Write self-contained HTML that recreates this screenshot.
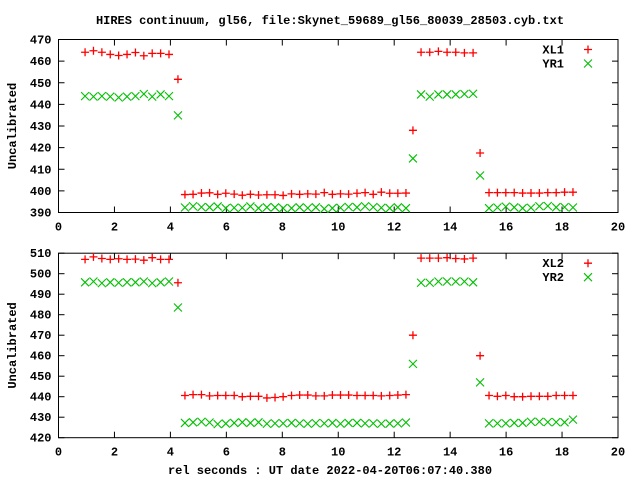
<!DOCTYPE html>
<html><head><meta charset="utf-8"><style>
body{margin:0;background:#fff;}
svg text{font-family:"Liberation Mono",monospace;font-size:12px;font-weight:bold;fill:#000;}
</style></head><body>
<svg id="c" width="640" height="480" xmlns="http://www.w3.org/2000/svg">
<rect width="640" height="480" fill="#fff"/>
<text x="330" y="24" text-anchor="middle">HIRES continuum, gl56, file:Skynet_59689_gl56_80039_28503.cyb.txt</text>
<text x="330" y="474" text-anchor="middle">rel seconds : UT date 2022-04-20T06:07:40.380</text>
</svg>
<script>
const times=[0.95,1.25,1.55,1.85,2.15,2.45,2.75,3.05,3.35,3.65,3.95,4.27,4.52,4.81,5.11,5.40,5.69,5.98,6.28,6.57,6.86,7.15,7.45,7.74,8.03,8.33,8.62,8.91,9.20,9.50,9.79,10.08,10.37,10.67,10.96,11.25,11.54,11.84,12.13,12.42,12.67,12.96,13.27,13.58,13.89,14.20,14.51,14.82,15.07,15.39,15.69,15.99,16.29,16.59,16.89,17.19,17.49,17.79,18.09,18.39];
const xl1=[464.1,464.8,464.1,463.1,462.6,463.1,464.0,462.5,463.6,463.6,463.1,451.6,398.3,398.4,399.0,399.1,398.4,398.9,398.5,398.0,398.4,398.1,398.2,398.2,397.9,398.6,398.4,398.6,398.5,399.2,398.4,398.6,398.5,398.9,399.2,398.4,399.4,398.9,398.9,399.0,428.0,464.1,464.1,464.5,464.1,464.1,463.8,463.8,417.5,399.2,399.2,399.2,399.2,399.0,399.0,399.0,399.2,399.2,399.4,399.4];
const yr1=[443.8,443.6,443.8,443.6,443.2,443.6,443.8,444.8,443.6,444.6,443.8,434.9,392.3,392.9,392.5,392.4,392.8,392.0,392.2,392.2,392.8,392.0,392.4,392.4,392.0,392.0,392.4,392.1,392.4,391.7,392.0,392.2,392.6,392.4,392.9,392.5,392.2,392.0,392.4,392.0,415.0,444.6,443.6,444.6,444.6,444.6,444.8,444.9,407.1,392.0,392.3,392.7,392.4,392.0,392.2,392.9,393.0,392.4,392.5,392.3];
const xl2=[507.0,508.2,507.4,507.0,507.3,507.0,507.1,506.6,507.8,507.0,507.0,495.6,440.6,441.0,441.0,440.4,440.6,440.6,440.6,440.0,440.2,440.2,439.4,439.6,440.0,440.6,440.8,440.8,440.4,440.4,440.8,440.8,440.8,440.6,440.6,440.6,440.4,440.6,440.8,441.0,470.0,507.6,507.6,507.6,507.8,507.4,507.2,507.6,460.0,440.6,440.2,440.6,440.0,440.0,440.2,440.2,440.2,440.6,440.6,440.6];
const yr2=[495.8,496.2,495.4,495.8,495.6,495.8,495.8,496.2,495.4,495.8,496.2,483.5,427.2,427.5,427.8,427.4,426.6,426.9,427.2,427.5,427.2,427.5,426.8,427.0,427.0,427.2,427.0,426.8,427.1,427.0,427.2,426.8,427.2,427.2,427.0,427.0,426.8,426.9,427.0,427.4,456.0,495.6,495.6,496.2,496.2,496.2,496.2,495.8,447.0,427.0,427.0,427.0,427.2,427.2,427.8,427.8,427.6,427.6,427.5,428.8];
const xTicks=[0,2,4,6,8,10,12,14,16,18,20];
const yTicks1=[390,400,410,420,430,440,450,460,470];
const yTicks2=[420,430,440,450,460,470,480,490,500,510];
const NS="http://www.w3.org/2000/svg";
const svg=document.getElementById('c');
const L=58.5,R=618;
function X(v){return L+(v-0)/(20-0)*(R-L);}
function el(t,a){const e=document.createElementNS(NS,t);for(const k in a)e.setAttribute(k,a[k]);svg.appendChild(e);return e;}
function panel(top,bot,ymin,ymax,yTicks,s1,s2,n1,n2,id){
  const Y=v=>bot-(v-ymin)/(ymax-ymin)*(bot-top);
  const f=el('rect',{x:L,y:top,width:R-L,height:bot-top,fill:'none',stroke:'#000','stroke-width':1});
  
  
  yTicks.forEach(t=>{const y=Y(t);
    el('line',{x1:L,y1:y,x2:L+6,y2:y,stroke:'#000'});el('line',{x1:R,y1:y,x2:R-6,y2:y,stroke:'#000'});
    const tx=el('text',{x:L-7,y:y+4,'text-anchor':'end'});tx.textContent=t;
    
    });
  xTicks.forEach(t=>{const x=X(t);
    el('line',{x1:x,y1:bot,x2:x,y2:bot-6,stroke:'#000'});el('line',{x1:x,y1:top,x2:x,y2:top+6,stroke:'#000'});
    const tx=el('text',{x:x,y:bot+18,'text-anchor':'middle'});tx.textContent=t;
    
    });
  const yl=el('text',{x:0,y:0,'text-anchor':'middle',transform:`translate(16,${(top+bot)/2}) rotate(-90)`});yl.textContent='Uncalibrated';
  
  
  function plus(x,y,name){const p=el('path',{d:`M${x-4},${y}h8M${x},${y-4}v8`,stroke:'#f00','stroke-width':1.3,fill:'none'});
    
    }
  function cross(x,y,name){const p=el('path',{d:`M${x-4},${y-4}l8,8M${x-4},${y+4}l8,-8`,stroke:'#00c000','stroke-width':1.1,fill:'none'});
    
    }
  times.forEach((t,i)=>{plus(X(t),Y(s1[i]),n1.toLowerCase()+'-point');cross(X(t),Y(s2[i]),n2.toLowerCase()+'-point');});
  const a=el('text',{x:564,y:top+14,'text-anchor':'end'});a.textContent=n1;
  
  
  plus(588,top+10,n1.toLowerCase()+'-legend-marker');
  const b=el('text',{x:564,y:top+28,'text-anchor':'end'});b.textContent=n2;
  
  
  cross(588,top+24,n2.toLowerCase()+'-legend-marker');
}
panel(39.5,212.5,390,470,yTicks1,xl1,yr1,'XL1','YR1','top-panel');
panel(253.2,437.7,420,510,yTicks2,xl2,yr2,'XL2','YR2','bottom-panel');
</script>
</body></html>
